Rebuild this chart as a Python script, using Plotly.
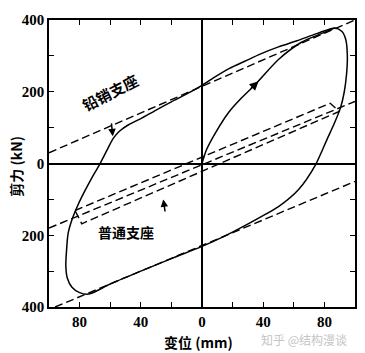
import plotly.graph_objects as go

# ---- data (displacement mm, shear kN) ----
loop_x = [87, 75, 62, 50, 38, 28, 18, 8, 0, -10, -20, -30, -40, -48, -54, -58, -62, -67,
          -72, -77, -81, -85, -87.5, -88.5, -89, -88, -85, -80, -74,
          -60, -40, -20, 0, 12, 24, 37, 50, 63, 74, 82, 86.5, 90.5, 93, 94.5, 95, 94, 91.5, 87]
loop_y = [378, 362, 342, 325, 305, 285, 265, 240, 218, 194, 172, 149, 125, 108, 90, 70, 38, -3,
          -40, -80, -115, -157, -195, -240, -285, -320, -345, -360, -364,
          -336, -300, -265, -231, -208, -182, -152, -120, -73, -5, 70, 112, 155, 200, 250, 300, 345, 368, 378]

virgin_x = [0, 3, 9, 17.5, 25, 35, 50, 65, 78, 87]
virgin_y = [0, 39, 87, 143, 179, 221, 290, 338, 362, 378]

lead_upper_x = [-100, 100]
lead_upper_y = [30, 400]
lead_lower_x = [-96, 100]
lead_lower_y = [-400, -50]

normal_box_x = [-83, 83.8, 89.6, -78.6, -83]
normal_box_y = [-131, 168, 145, -168, -131]
normal_mid_x = [-100, 100]
normal_mid_y = [-180, 173]

x_ticks = [-100, -80, -60, -40, -20, 0, 20, 40, 60, 80, 100]
x_text = ["", "80", "", "40", "", "0", "", "40", "", "80", ""]
y_ticks = [-400, -300, -200, -100, 0, 100, 200, 300, 400]
y_text = ["400", "", "200", "", "0", "", "200", "", "400"]

CJK = "Noto Sans CJK SC"
SERIF = "Liberation Serif"

fig = go.Figure()
dash_line = dict(color="black", width=1.4, dash="8px,4px")
fig.add_trace(go.Scatter(x=lead_upper_x, y=lead_upper_y, mode="lines", line=dash_line))
fig.add_trace(go.Scatter(x=lead_lower_x, y=lead_lower_y, mode="lines", line=dash_line))
fig.add_trace(go.Scatter(x=normal_box_x, y=normal_box_y, mode="lines", line=dash_line))
fig.add_trace(go.Scatter(x=normal_mid_x, y=normal_mid_y, mode="lines", line=dash_line))
fig.add_trace(go.Scatter(x=loop_x, y=loop_y, mode="lines",
                         line=dict(color="black", width=1.5, shape="spline", smoothing=0.8)))
fig.add_trace(go.Scatter(x=virgin_x, y=virgin_y, mode="lines",
                         line=dict(color="black", width=1.5, shape="spline", smoothing=0.8)))

ann = []
# arrow on virgin curve
ann.append(dict(x=37, y=229, ax=31, ay=205, xref="x", yref="y", axref="x", ayref="y",
                text="", showarrow=True, arrowhead=2, arrowsize=1.2, arrowwidth=1.5, arrowcolor="black"))
# pointer arrows for labels
ann.append(dict(x=-58.3, y=76, ax=-59.3, ay=116, xref="x", yref="y", axref="x", ayref="y",
                text="", showarrow=True, arrowhead=2, arrowsize=1, arrowwidth=1.5, arrowcolor="black"))
ann.append(dict(x=-25.3, y=-100, ax=-24, ay=-138, xref="x", yref="y", axref="x", ayref="y",
                text="", showarrow=True, arrowhead=2, arrowsize=1, arrowwidth=1.5, arrowcolor="black"))
# labels
ann.append(dict(x=-60.4, y=198, xref="x", yref="y", text="铅销支座", showarrow=False, textangle=-27,
                xanchor="center", yanchor="middle",
                font=dict(family=CJK, size=15, color="black", weight="bold")))
ann.append(dict(x=-49.4, y=-190, xref="x", yref="y", text="普通支座", showarrow=False,
                xanchor="center", yanchor="middle",
                font=dict(family=CJK, size=14, color="black", weight="bold")))
# axis titles
ann.append(dict(x=-0.107, y=0.49, xref="paper", yref="paper", text="剪力 (kN)", showarrow=False,
                xanchor="center", yanchor="middle",
                textangle=-90, font=dict(family=CJK, size=14, color="black", weight="bold")))
ann.append(dict(x=0.49, y=-0.122, xref="paper", yref="paper", text="变位 (mm)", showarrow=False,
                xanchor="center", yanchor="middle",
                font=dict(family=CJK, size=14, color="black", weight="bold")))
ann.append(dict(x=0.834, y=-0.112, xref="paper", yref="paper", text="知乎 @结构漫谈", showarrow=False,
                xanchor="center", yanchor="middle",
                font=dict(family=CJK, size=12, color="#c4c4c4")))

axis_common = dict(showline=True, linecolor="black", linewidth=1.5, mirror="ticks",
                   ticks="inside", ticklen=5, tickwidth=1.2, tickcolor="black",
                   showgrid=False, zeroline=True, zerolinecolor="black", zerolinewidth=1.5,
                   tickmode="array",
                   tickfont=dict(family=SERIF, size=15, color="black", weight="bold"))

fig.update_layout(
    width=365, height=353,
    margin=dict(l=49, r=8, t=20, b=46),
    paper_bgcolor="white", plot_bgcolor="white",
    showlegend=False,
    xaxis=dict(range=[-100, 100], tickvals=x_ticks, ticktext=x_text, **axis_common),
    yaxis=dict(range=[-400, 400], tickvals=y_ticks, ticktext=y_text, **axis_common),
    annotations=ann,
)

fig.write_html("out.html")
